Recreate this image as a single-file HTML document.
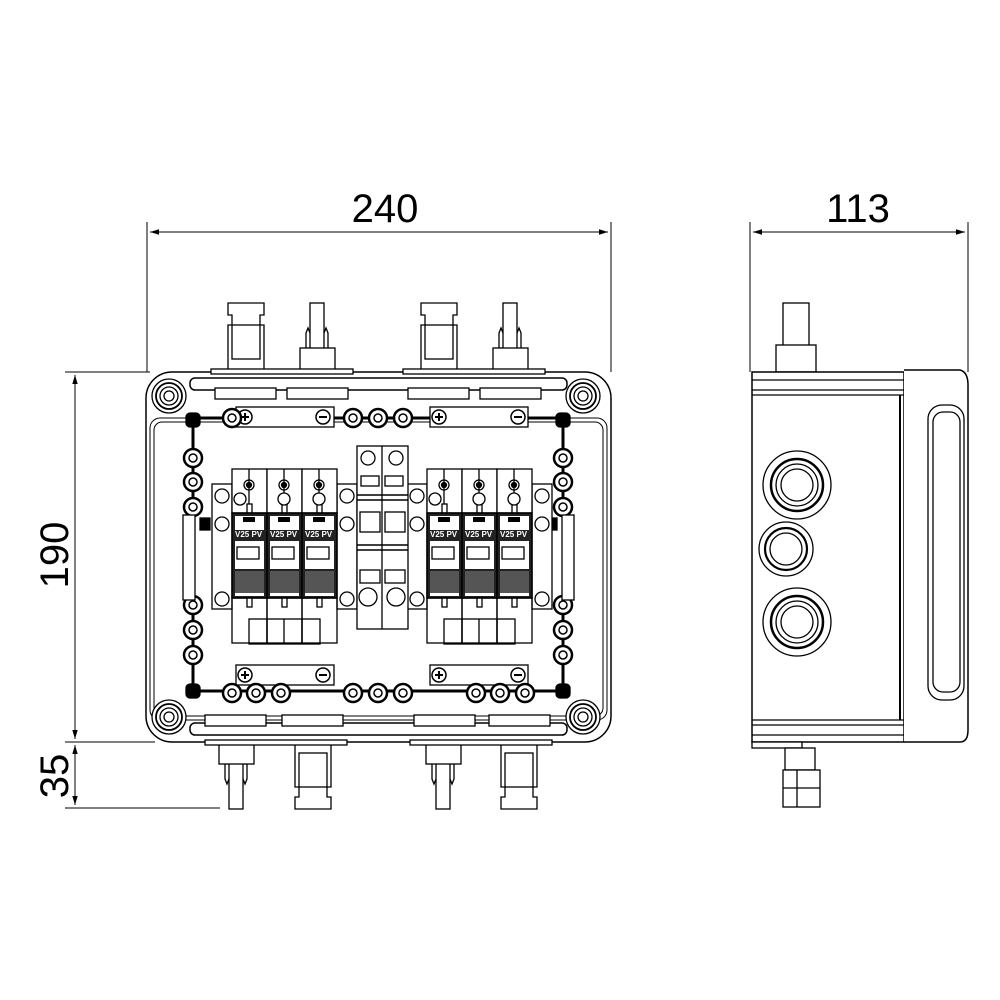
<!DOCTYPE html>
<html><head><meta charset="utf-8"><style>
html,body{margin:0;padding:0;background:#fff}
svg{display:block}
text{font-family:"Liberation Sans",Arial,sans-serif}
</style></head><body>
<svg width="1000" height="1000" viewBox="0 0 1000 1000" xmlns="http://www.w3.org/2000/svg" fill="none" stroke="#000" stroke-width="1.3">
<defs>
<marker id="ar" viewBox="0 0 10 10" refX="10" refY="5" markerWidth="9" markerHeight="9" orient="auto-start-reverse"><path d="M0,2 L10,5 L0,8 z" fill="#000" stroke="none"/></marker>
<g id="term"><circle r="9" fill="#fff" stroke-width="2.5"/><circle r="4" stroke-width="1.5"/></g>
<g id="screw"><circle r="17" fill="#fff"/><circle r="13" stroke-width="1.8"/><circle r="9"/><circle r="5"/></g>
<g id="mod">
 <rect x="0" y="0" width="35" height="44" fill="#fff"/>
 <line x1="17" y1="0" x2="17" y2="44"/>
 <circle cx="17" cy="16" r="5"/><circle cx="17" cy="16" r="2.5" fill="#000"/>
 <rect x="15" y="35" width="5" height="9" fill="#fff"/>
 <rect x="0" y="44" width="35" height="85" fill="#222" stroke-width="1.5"/>
 <rect x="3" y="47" width="29" height="14" fill="#fff" stroke="none"/>
 <rect x="11" y="48" width="12" height="5" fill="#000" stroke="none"/>
 <text x="3" y="68" font-size="8" font-weight="bold" fill="#fff" stroke="none">V25 PV</text>
 <rect x="3" y="72" width="29" height="28" fill="#fff" stroke="none"/>
 <rect x="5" y="78" width="22" height="12" fill="#fff" stroke="#000"/>
 <rect x="3" y="102" width="29" height="22" fill="#555" stroke="none"/>
 <rect x="3" y="124" width="29" height="3" fill="#fff" stroke="none"/>
 <rect x="15" y="129" width="5" height="9" fill="#fff"/>
 <rect x="0" y="129" width="35" height="45" fill="none"/>
</g>
<g id="grp">
 <rect x="-20" y="15" width="20" height="125" fill="#fff"/>
 <circle cx="-10" cy="27" r="7" fill="#fff"/><circle cx="-10" cy="55" r="7" fill="#fff"/><circle cx="-10" cy="130" r="7" fill="#fff"/>
 <rect x="105" y="15" width="20" height="125" fill="#fff"/>
 <circle cx="115" cy="27" r="7" fill="#fff"/><circle cx="115" cy="55" r="7" fill="#fff"/><circle cx="115" cy="130" r="7" fill="#fff"/>
 <use href="#mod" x="0"/><use href="#mod" x="35"/><use href="#mod" x="70"/>
 <rect x="17" y="150" width="71" height="25"/>
 <line x1="35" y1="150" x2="35" y2="175"/><line x1="52" y1="150" x2="52" y2="175"/><line x1="70" y1="150" x2="70" y2="175"/>
 <circle cx="8" cy="30" r="6" fill="#fff"/><circle cx="52" cy="30" r="6" fill="#fff"/><circle cx="87" cy="30" r="6" fill="#fff"/>
</g>
<g id="connF"><path d="M0,0 H36 V12 H32 V22 H36 V67 H0 V22 H4 V12 H0 Z" fill="#fff"/><rect x="4" y="22" width="28" height="34"/></g>
<g id="connM"><rect x="10" y="0" width="14" height="50" fill="#fff"/><path d="M6,50 V30 L8,25 L10,30 M28,50 V30 L26,25 L24,30"/><rect x="0" y="45" width="35" height="22" fill="#fff"/></g>
</defs>

<!-- dimensions -->
<g stroke-width="1">
<line x1="147" y1="222" x2="147" y2="372"/><line x1="611" y1="222" x2="611" y2="372"/>
<line x1="150" y1="232" x2="608" y2="232" marker-start="url(#ar)" marker-end="url(#ar)"/>
<line x1="750" y1="222" x2="750" y2="372"/><line x1="968" y1="222" x2="968" y2="372"/>
<line x1="753" y1="232" x2="965" y2="232" marker-start="url(#ar)" marker-end="url(#ar)"/>
<line x1="65" y1="372" x2="150" y2="372"/><line x1="65" y1="742" x2="155" y2="742"/><line x1="65" y1="808" x2="220" y2="808"/>
<line x1="75" y1="375" x2="75" y2="739" marker-start="url(#ar)" marker-end="url(#ar)"/>
<line x1="75" y1="745" x2="75" y2="805" marker-start="url(#ar)" marker-end="url(#ar)"/>
</g>
<g fill="#000" stroke="none" font-size="40">
<text x="385" y="222" text-anchor="middle">240</text>
<text x="858" y="222" text-anchor="middle">113</text>
<text transform="translate(68,555) rotate(-90)" text-anchor="middle">190</text>
<text transform="translate(68,776) rotate(-90)" text-anchor="middle">35</text>
</g>

<!-- top connectors -->
<use href="#connF" x="228" y="303"/><use href="#connM" x="300" y="303"/>
<use href="#connF" x="421" y="303"/><use href="#connM" x="493" y="303"/>
<!-- bottom connectors -->
<g transform="translate(0,1112) scale(1,-1)">
<use href="#connM" x="219" y="303"/><use href="#connF" x="295" y="303"/>
<use href="#connM" x="426" y="303"/><use href="#connF" x="501" y="303"/>
</g>

<!-- main box -->
<rect x="146" y="372" width="465" height="370" rx="26" fill="#fff" stroke-width="1.5"/>
<rect x="211" y="369" width="142" height="5" fill="#fff"/><rect x="403" y="369" width="142" height="5" fill="#fff"/>
<rect x="205" y="740" width="142" height="5" fill="#fff"/><rect x="410" y="740" width="142" height="5" fill="#fff"/>
<rect x="150" y="418" width="457" height="302" rx="10" stroke-width="1"/>
<rect x="154" y="422" width="449" height="294" rx="8" stroke-width="1"/>
<rect x="190" y="378" width="377" height="12" rx="5" stroke-width="1.5"/>
<rect x="190" y="723" width="377" height="12" rx="5" stroke-width="1.5"/>
<g fill="#fff">
<rect x="215" y="388" width="61" height="11"/><rect x="287" y="388" width="61" height="11"/>
<rect x="408" y="388" width="61" height="11"/><rect x="480" y="388" width="61" height="11"/>
<rect x="205" y="715" width="61" height="11"/><rect x="282" y="715" width="61" height="11"/>
<rect x="414" y="715" width="61" height="11"/><rect x="489" y="715" width="61" height="11"/>
</g>
<!-- inner frame -->
<rect x="193" y="418" width="370" height="273" stroke-width="3"/>
<rect x="186" y="413" width="14" height="14" rx="4" fill="#000"/><rect x="556" y="413" width="14" height="14" rx="4" fill="#000"/>
<rect x="186" y="684" width="14" height="14" rx="4" fill="#000"/><rect x="556" y="684" width="14" height="14" rx="4" fill="#000"/>
<!-- corner screws -->
<use href="#screw" x="169" y="396"/><use href="#screw" x="583" y="396"/>
<use href="#screw" x="169" y="717"/><use href="#screw" x="583" y="717"/>
<!-- bus bars -->
<g fill="#fff">
<rect x="236" y="407" width="98" height="20"/><rect x="430" y="407" width="98" height="20"/>
<rect x="236" y="665" width="98" height="20"/><rect x="430" y="665" width="98" height="20"/>
</g>
<g stroke-width="1.5">
<circle cx="245" cy="417" r="7" fill="#fff"/><circle cx="323" cy="417" r="7" fill="#fff"/>
<circle cx="439" cy="417" r="7" fill="#fff"/><circle cx="518" cy="417" r="7" fill="#fff"/>
<circle cx="245" cy="675" r="7" fill="#fff"/><circle cx="323" cy="675" r="7" fill="#fff"/>
<circle cx="439" cy="675" r="7" fill="#fff"/><circle cx="518" cy="675" r="7" fill="#fff"/>
<path d="M241,417h8M245,413v8M319,417h8M435,417h8M439,413v8M514,417h8M241,675h8M245,671v8M319,675h8M435,675h8M439,671v8M514,675h8" stroke-width="2"/>
</g>
<!-- terminals -->
<use href="#term" x="232" y="418"/><use href="#term" x="353" y="418"/><use href="#term" x="378" y="418"/><use href="#term" x="403" y="418"/>
<use href="#term" x="193" y="458"/><use href="#term" x="193" y="482"/><use href="#term" x="193" y="507"/>
<use href="#term" x="193" y="605"/><use href="#term" x="193" y="630"/><use href="#term" x="193" y="655"/>
<use href="#term" x="563" y="458"/><use href="#term" x="563" y="482"/><use href="#term" x="563" y="507"/>
<use href="#term" x="563" y="605"/><use href="#term" x="563" y="630"/><use href="#term" x="563" y="655"/>
<use href="#term" x="232" y="693"/><use href="#term" x="256" y="693"/><use href="#term" x="281" y="693"/>
<use href="#term" x="353" y="693"/><use href="#term" x="378" y="693"/><use href="#term" x="403" y="693"/>
<use href="#term" x="476" y="693"/><use href="#term" x="500" y="693"/><use href="#term" x="525" y="693"/>
<!-- side rails -->
<rect x="183" y="515" width="12" height="85" fill="#fff"/><rect x="562" y="515" width="12" height="85" fill="#fff"/>
<rect x="200" y="518" width="10" height="12" fill="#000"/><rect x="547" y="518" width="10" height="12" fill="#000"/>
<!-- SPD groups -->
<use href="#grp" x="232" y="469"/><use href="#grp" x="427" y="469"/>
<!-- center breaker -->
<g fill="#fff">
<rect x="357" y="446" width="51" height="183"/>
<line x1="382" y1="446" x2="382" y2="629"/>
<circle cx="368" cy="458" r="7"/><circle cx="396" cy="458" r="7"/>
<rect x="361" y="476" width="18" height="10"/><rect x="385" y="476" width="18" height="10"/>
<rect x="360" y="512" width="20" height="20"/><rect x="385" y="512" width="20" height="20"/>
<rect x="360" y="570" width="20" height="13"/><rect x="385" y="570" width="20" height="13"/>
<circle cx="368" cy="597" r="9"/><circle cx="396" cy="597" r="9"/>
</g>
<path d="M357,495h51M357,500h51M357,545h51M357,550h51" stroke-width="1.5"/>

<!-- side view -->
<rect x="783" y="303" width="26" height="55" fill="#fff"/>
<rect x="776" y="345" width="40" height="27" fill="#fff"/>
<rect x="752" y="372" width="152" height="370" fill="#fff" stroke-width="1.5"/>
<path d="M904,370 H960 Q968,372 968,385 V730 Q968,742 960,742 H904" fill="#fff" stroke-width="1.5"/>
<line x1="752" y1="380" x2="904" y2="380"/><line x1="752" y1="390" x2="904" y2="390"/><line x1="752" y1="395" x2="904" y2="395"/>
<line x1="752" y1="720" x2="904" y2="720"/><line x1="752" y1="725" x2="904" y2="725"/><line x1="752" y1="735" x2="904" y2="735"/>
<line x1="900" y1="395" x2="900" y2="720" stroke-width="2"/>
<rect x="928" y="405" width="36" height="295" rx="14"/>
<rect x="933" y="412" width="27" height="280" rx="10"/>
<g>
<circle cx="797" cy="485" r="34"/><circle cx="797" cy="485" r="26" stroke-width="2.5"/><circle cx="797" cy="485" r="21"/><circle cx="797" cy="485" r="16"/>
<circle cx="786" cy="549" r="27"/><circle cx="786" cy="549" r="21" stroke-width="2.2"/><circle cx="786" cy="549" r="16"/>
<circle cx="797" cy="622" r="34"/><circle cx="797" cy="622" r="26" stroke-width="2.5"/><circle cx="797" cy="622" r="21"/><circle cx="797" cy="622" r="16"/>
</g>
<rect x="752" y="742" width="50" height="6" fill="#fff"/>
<rect x="785" y="748" width="30" height="22" fill="#fff"/>
<rect x="783" y="770" width="37" height="37" fill="#fff"/>
<line x1="797" y1="770" x2="797" y2="807"/><line x1="783" y1="788" x2="820" y2="788"/>
</svg>
</body></html>
